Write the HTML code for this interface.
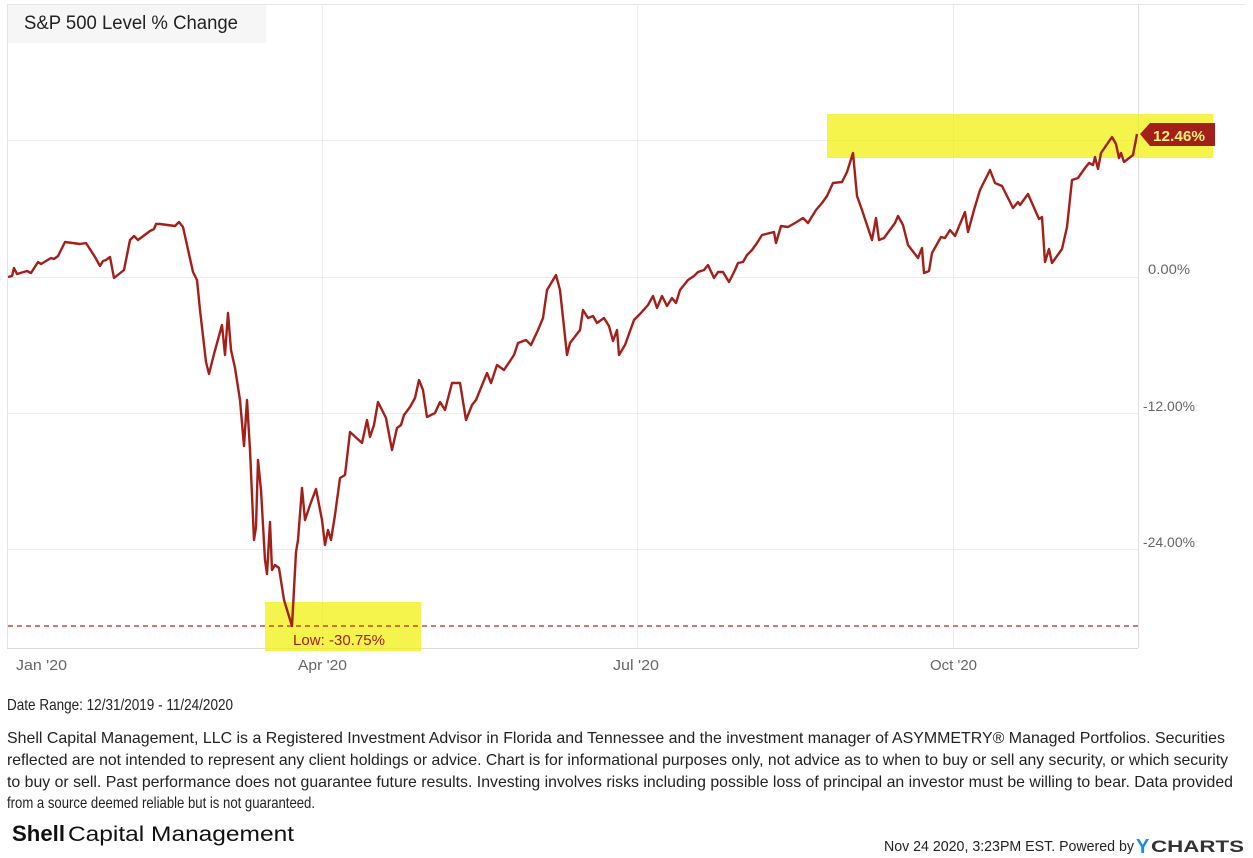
<!DOCTYPE html>
<html><head><meta charset="utf-8"><style>
html,body{margin:0;padding:0;background:#fff;}
svg{display:block;font-family:"Liberation Sans",sans-serif;}
</style></head><body>
<svg width="1253" height="858" viewBox="0 0 1253 858" xmlns="http://www.w3.org/2000/svg">
<rect width="1253" height="858" fill="#fff"/>
<!-- plot frame -->
<line x1="7.5" y1="4" x2="7.5" y2="648" stroke="#e3e3e3"/>
<line x1="7" y1="4.5" x2="1245" y2="4.5" stroke="#e6e6e6"/>
<line x1="7" y1="648.5" x2="1138" y2="648.5" stroke="#dcdcdc"/>
<!-- grid -->
<g stroke="#ececec" stroke-width="1">
<line x1="7" y1="140.5" x2="1138" y2="140.5"/>
<line x1="7" y1="277.5" x2="1138" y2="277.5"/>
<line x1="7" y1="413.5" x2="1138" y2="413.5"/>
<line x1="7" y1="549.5" x2="1138" y2="549.5"/>
<line x1="322.5" y1="4" x2="322.5" y2="648"/>
<line x1="637.5" y1="4" x2="637.5" y2="648"/>
<line x1="953.5" y1="4" x2="953.5" y2="648"/>
<line x1="1138.5" y1="4" x2="1138.5" y2="648" stroke="#dedede"/>
</g>
<!-- title -->
<rect x="8" y="5" width="258" height="38" fill="#f6f6f6"/>
<text x="24" y="29" font-size="19" fill="#222" textLength="214" lengthAdjust="spacingAndGlyphs">S&amp;P 500 Level % Change</text>
<!-- highlight boxes -->
<rect x="827" y="114" width="386" height="44" fill="#f1f000" opacity="0.7"/>
<rect x="265" y="602" width="156" height="49" fill="#f1f000" opacity="0.7"/>
<!-- low line -->
<line x1="8" y1="626" x2="1138" y2="626" stroke="#b22a22" stroke-width="1.3" stroke-dasharray="5,4"/>
<text x="293" y="645" font-size="15" fill="#a51f1a" textLength="92" lengthAdjust="spacingAndGlyphs">Low: -30.75%</text>
<!-- series -->
<polyline fill="none" stroke="#a31f1a" stroke-width="2.4" stroke-linejoin="round" points="8,277 12,276 14,268 17,274 27,271 31,273 38,262 41,264 51,258 54,259 58,256 65,242 80,244 86,243 95,257 100,266 103,261 106,260 110,257 114,278 124,270 130,240 134,236 138,240 150,231 154,229 156,224 160,224 175,226 179,222 183,227 193,272 197,280 200,310 206,362 209,374 214,354 222,325 225,355 228,313 231,350 235,368 240,400 244,446 247,400 250,450 254,540 256,527 258,460 261,490 265,560 267,574 270,522 272,570 275,565 279,568 284,600 292,626 296,552 298,540 302,488 305,520 310,505 316,489 322,520 325,545 328,530 331,540 335,515 340,478 345,475 350,432 362,443 367,420 370,437 374,425 378,402 386,418 392,450 397,428 401,425 404,415 410,407 415,398 419,380 423,390 427,417 435,413 440,402 445,410 452,383 460,383 466,420 472,405 476,400 487,373 491,383 497,365 504,370 514,355 518,343 526,340 531,345 538,330 543,318 547,290 556,275 560,290 567,355 570,343 580,330 583,310 588,318 593,316 597,323 604,318 609,326 613,341 617,330 619,355 625,345 634,320 640,314 648,305 653,296 657,308 662,296 667,306 672,298 676,303 680,290 688,280 694,276 698,272 704,270 708,265 714,278 718,272 723,272 729,282 735,270 738,263 743,262 747,255 752,250 757,243 762,235 774,232 776,243 781,226 788,227 795,223 803,218 808,223 816,210 822,203 827,196 833,183 842,182 847,172 853,153 857,196 862,210 872,240 876,218 879,240 884,238 895,223 898,216 903,225 908,245 918,258 922,248 924,273 929,271 932,253 941,237 945,238 950,230 955,236 960,224 965,212 968,232 974,210 980,190 990,170 995,183 1002,186 1013,208 1018,202 1020,205 1028,194 1039,219 1042,217 1045,262 1049,249 1052,263 1062,249 1067,227 1072,180 1078,178 1085,168 1089,163 1093,165 1095,157 1098,169 1101,153 1112,137 1116,144 1119,158 1121,153 1124,162 1133,155 1137,134"/>
<!-- last value label -->
<polygon points="1140,134 1150,123 1215,123 1215,146 1150,146" fill="#a31f1a"/>
<text x="1153" y="141" font-size="15" font-weight="bold" fill="#f5f07a" textLength="52" lengthAdjust="spacingAndGlyphs">12.46%</text>
<!-- y labels -->
<g font-size="14" fill="#666">
<text x="1148" y="274" textLength="42" lengthAdjust="spacingAndGlyphs">0.00%</text>
<text x="1143" y="411" textLength="52" lengthAdjust="spacingAndGlyphs">-12.00%</text>
<text x="1143" y="547" textLength="52" lengthAdjust="spacingAndGlyphs">-24.00%</text>
</g>
<!-- x labels -->
<g font-size="15" fill="#666">
<text x="16" y="670" textLength="51" lengthAdjust="spacingAndGlyphs">Jan '20</text>
<text x="298" y="670" textLength="49" lengthAdjust="spacingAndGlyphs">Apr '20</text>
<text x="613" y="670" textLength="46" lengthAdjust="spacingAndGlyphs">Jul '20</text>
<text x="930" y="670" textLength="47" lengthAdjust="spacingAndGlyphs">Oct '20</text>
</g>
<!-- footer -->
<g font-size="16" fill="#222">
<text x="7" y="710" textLength="226" lengthAdjust="spacingAndGlyphs">Date Range: 12/31/2019 - 11/24/2020</text>
<text x="7" y="743" textLength="1218" lengthAdjust="spacingAndGlyphs">Shell Capital Management, LLC is a Registered Investment Advisor in Florida and Tennessee and the investment manager of ASYMMETRY® Managed Portfolios. Securities</text>
<text x="7" y="765" textLength="1221" lengthAdjust="spacingAndGlyphs">reflected are not intended to represent any client holdings or advice. Chart is for informational purposes only, not advice as to when to buy or sell any security, or which security</text>
<text x="7" y="787" textLength="1226" lengthAdjust="spacingAndGlyphs">to buy or sell. Past performance does not guarantee future results. Investing involves risks including possible loss of principal an investor must be willing to bear. Data provided</text>
<text x="7" y="808" textLength="308" lengthAdjust="spacingAndGlyphs">from a source deemed reliable but is not guaranteed.</text>
</g>
<text x="12" y="841" font-size="22" font-weight="bold" fill="#111" textLength="53" lengthAdjust="spacingAndGlyphs">Shell</text>
<text x="68" y="841" font-size="21" fill="#111" textLength="226" lengthAdjust="spacingAndGlyphs">Capital Management</text>
<text x="884" y="851" font-size="15" fill="#222" textLength="250" lengthAdjust="spacingAndGlyphs">Nov 24 2020, 3:23PM EST. Powered by</text>
<text x="1136" y="853" font-size="20" font-weight="bold" fill="#1a8fe0">Y</text>
<text x="1151" y="852" font-size="17" font-weight="bold" fill="#333" textLength="93" lengthAdjust="spacingAndGlyphs">CHARTS</text>
</svg>
</body></html>
